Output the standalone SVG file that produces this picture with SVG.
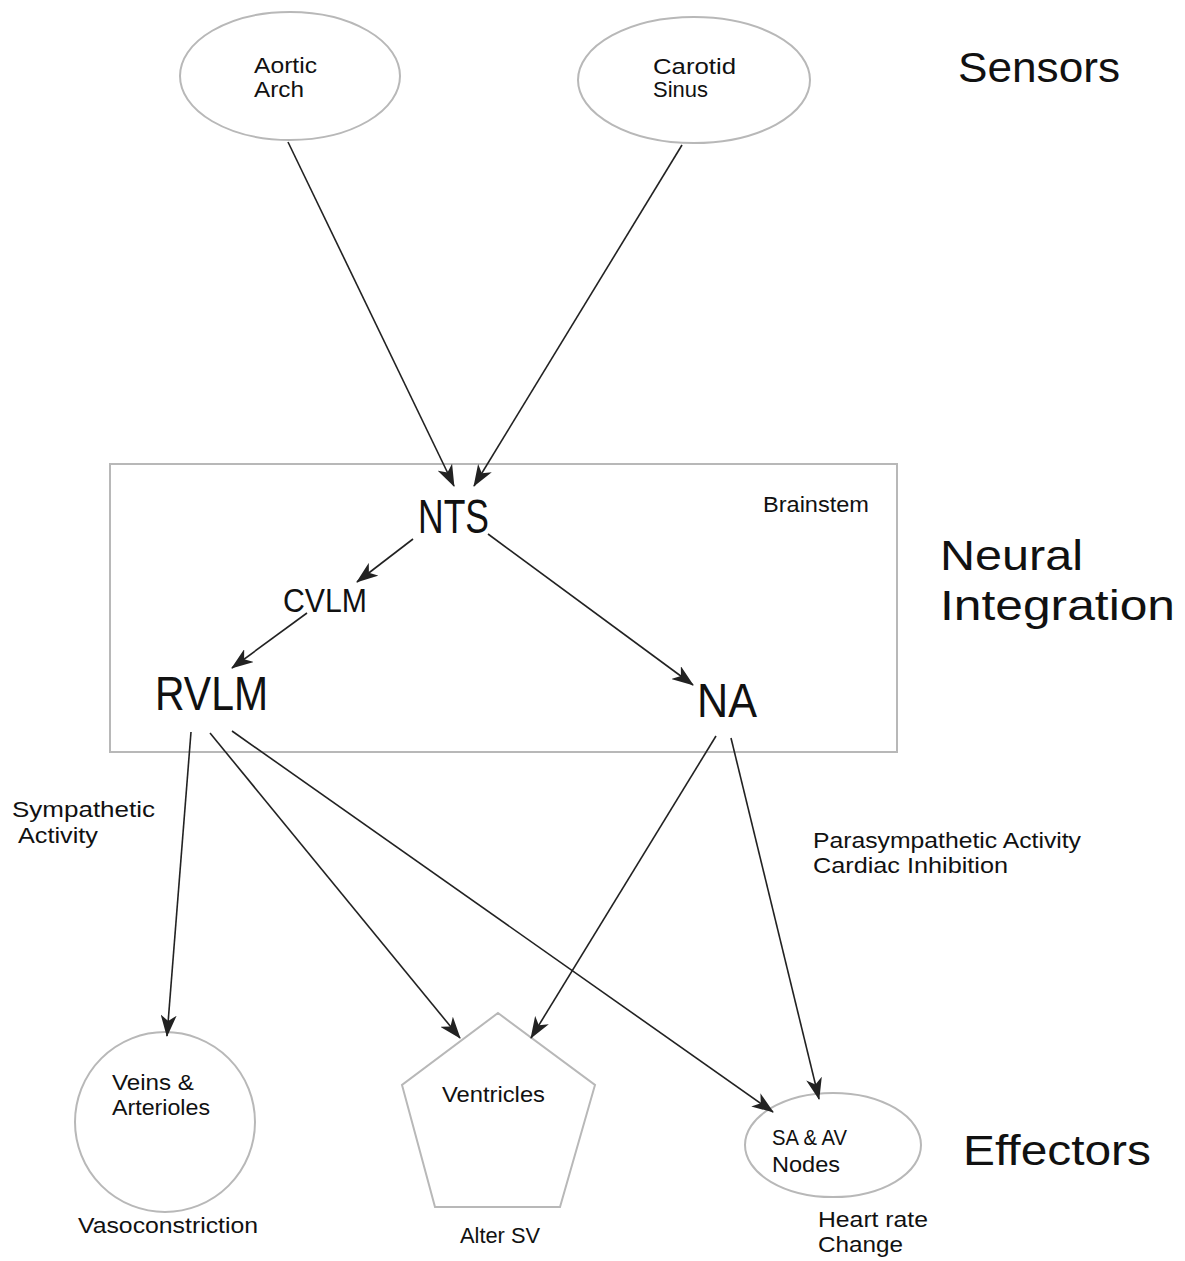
<svg xmlns="http://www.w3.org/2000/svg" width="1185" height="1261" viewBox="0 0 1185 1261">
<style>
text{font-family:"Liberation Sans",Arial,sans-serif;fill:#111}
.shape{fill:none;stroke:#b8b8b8;stroke-width:2}
.conn line{stroke:#222;stroke-width:1.6;marker-end:url(#ah)}
.s{font-size:22px}
.b{font-size:48px}
.h{font-size:43px}
</style>
<defs>
<marker id="ah" viewBox="0 0 22 16" refX="21" refY="8" markerWidth="22" markerHeight="16" markerUnits="userSpaceOnUse" orient="auto">
<path d="M0,0 L22,8 L0,16 L6,8 Z" fill="#222"/>
</marker>
</defs>
<rect width="1185" height="1261" fill="#fff"/>

<g id="brainstem">
<rect class="shape" x="110" y="464" width="787" height="288"/>
<text class="s" x="763" y="512" textLength="106" lengthAdjust="spacingAndGlyphs">Brainstem</text>
</g>

<g id="aortic-arch">
<ellipse class="shape" cx="290" cy="76" rx="110" ry="64"/>
<text class="s" x="254" y="73" textLength="63" lengthAdjust="spacingAndGlyphs">Aortic</text>
<text class="s" x="254" y="97" textLength="50" lengthAdjust="spacingAndGlyphs">Arch</text>
</g>

<g id="carotid-sinus">
<ellipse class="shape" cx="694" cy="80" rx="116" ry="63"/>
<text class="s" x="653" y="74" textLength="83" lengthAdjust="spacingAndGlyphs">Carotid</text>
<text class="s" x="653" y="97" textLength="55" lengthAdjust="spacingAndGlyphs">Sinus</text>
</g>

<g id="nts"><text class="b" x="418" y="533" textLength="71" lengthAdjust="spacingAndGlyphs">NTS</text></g>
<g id="cvlm"><text style="font-size:34px" x="283" y="612" textLength="84" lengthAdjust="spacingAndGlyphs">CVLM</text></g>
<g id="rvlm"><text class="b" x="155" y="710" textLength="113" lengthAdjust="spacingAndGlyphs">RVLM</text></g>
<g id="na"><text class="b" x="697" y="717" textLength="60" lengthAdjust="spacingAndGlyphs">NA</text></g>

<g id="veins-arterioles">
<circle class="shape" cx="165" cy="1122" r="90"/>
<text class="s" x="112" y="1090" textLength="82" lengthAdjust="spacingAndGlyphs">Veins &amp;</text>
<text class="s" x="112" y="1115" textLength="98" lengthAdjust="spacingAndGlyphs">Arterioles</text>
</g>

<g id="ventricles">
<polygon class="shape" points="498,1013 595,1085 560,1207 435,1207 402,1085"/>
<text class="s" x="442" y="1102" textLength="103" lengthAdjust="spacingAndGlyphs">Ventricles</text>
</g>

<g id="sa-av-nodes">
<ellipse class="shape" cx="833" cy="1145" rx="88" ry="52"/>
<text class="s" x="772" y="1145" textLength="75" lengthAdjust="spacingAndGlyphs">SA &amp; AV</text>
<text class="s" x="772" y="1172" textLength="68" lengthAdjust="spacingAndGlyphs">Nodes</text>
</g>

<g id="labels">
<text class="h" x="958" y="82" textLength="162" lengthAdjust="spacingAndGlyphs">Sensors</text>
<text class="h" x="940" y="570" textLength="143" lengthAdjust="spacingAndGlyphs">Neural</text>
<text class="h" x="940" y="620" textLength="235" lengthAdjust="spacingAndGlyphs">Integration</text>
<text class="h" x="963" y="1165" textLength="188" lengthAdjust="spacingAndGlyphs">Effectors</text>
<text class="s" x="12" y="817" textLength="143" lengthAdjust="spacingAndGlyphs">Sympathetic</text>
<text class="s" x="18" y="843" textLength="80" lengthAdjust="spacingAndGlyphs">Activity</text>
<text class="s" x="813" y="848" textLength="268" lengthAdjust="spacingAndGlyphs">Parasympathetic Activity</text>
<text class="s" x="813" y="873" textLength="195" lengthAdjust="spacingAndGlyphs">Cardiac Inhibition</text>
<text class="s" x="78" y="1233" textLength="180" lengthAdjust="spacingAndGlyphs">Vasoconstriction</text>
<text class="s" x="460" y="1243" textLength="80" lengthAdjust="spacingAndGlyphs">Alter SV</text>
<text class="s" x="818" y="1227" textLength="110" lengthAdjust="spacingAndGlyphs">Heart rate</text>
<text class="s" x="818" y="1252" textLength="85" lengthAdjust="spacingAndGlyphs">Change</text>
</g>

<g id="connectors" class="conn">
<line x1="288" y1="142" x2="454" y2="486"/>
<line x1="682" y1="145" x2="474" y2="486"/>
<line x1="413" y1="539" x2="357" y2="582"/>
<line x1="307" y1="613" x2="232" y2="668"/>
<line x1="488" y1="534" x2="693" y2="685"/>
<line x1="191" y1="732" x2="167" y2="1036"/>
<line x1="210" y1="733" x2="460" y2="1038"/>
<line x1="232" y1="731" x2="773" y2="1112"/>
<line x1="716" y1="736" x2="531" y2="1038"/>
<line x1="731" y1="738" x2="819" y2="1099"/>
</g>
</svg>
